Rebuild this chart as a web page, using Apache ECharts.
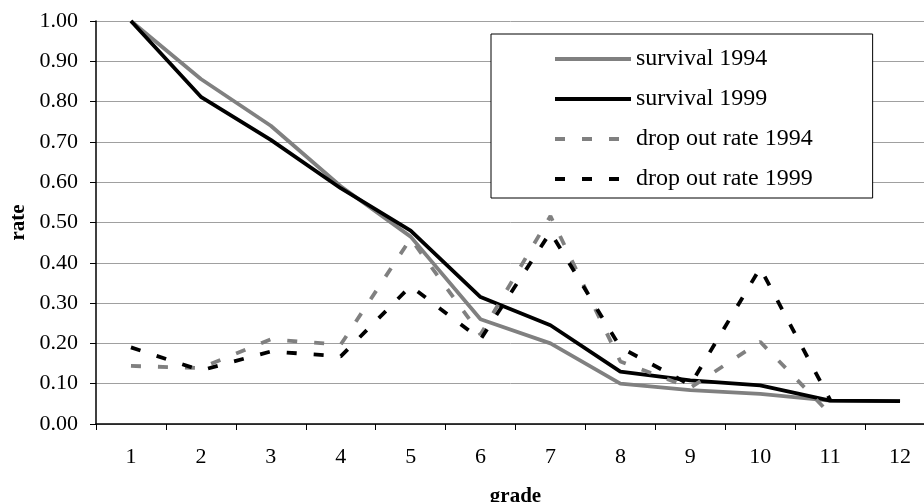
<!DOCTYPE html>
<html><head><meta charset="utf-8">
<script src="https://cdn.jsdelivr.net/npm/echarts@6/dist/echarts.min.js"></script>
<style>html,body{margin:0;padding:0;background:#fff}#c{width:924px;height:502px}</style>
</head><body><div id="c"></div>
<script>
const grades = ['1','2','3','4','5','6','7','8','9','10','11','12'];
const survival1994 = [1.00,0.856,0.74,0.59,0.465,0.26,0.20,0.10,0.084,0.075,0.058,0.057];
const survival1999 = [1.00,0.812,0.705,0.585,0.48,0.315,0.245,0.13,0.108,0.096,0.058,0.057];
const dropout1994 = [0.144,0.139,0.21,0.197,0.46,0.222,0.516,0.155,0.09,0.204,0.025,null];
const dropout1999 = [0.19,0.133,0.18,0.168,0.342,0.21,0.476,0.19,0.097,0.387,0.06,null];
const seriesNames = ['survival 1994','survival 1999','drop out rate 1994','drop out rate 1999'];

const font = 'Liberation Serif';
function mk(name, data, color, dashed){
  return {name, type:'line', data, symbol:'none', connectNulls:false, animation:false,
    lineStyle:{color, width: 3.8, type: dashed ? [10,17] : 'solid', cap:'butt'},
    itemStyle:{color}};
}
const chart = echarts.init(document.getElementById('c'), null, {renderer:'canvas'});
chart.setOption({
  backgroundColor:'#fff',
  animation:false,
  grid:{left:96, right:-11, top:21, bottom:78, containLabel:false, outerBoundsMode:'none'},
  legend:{
    orient:'vertical', left:491, top:34,
    padding:[13,60,7,62], itemGap:16, itemWidth:76, itemHeight:14,
    borderColor:'#000', borderWidth:1, backgroundColor:'#fff',
    itemStyle:{opacity:0},
    lineStyle:{width:4},
    textStyle:{fontFamily:font, fontSize:24, lineHeight:24, color:'#000', padding:[0,0,0,0]},
    data: seriesNames
  },
  xAxis:{type:'category', data:grades, boundaryGap:true,
    name:'grade', nameLocation:'middle', nameGap:62,
    nameTextStyle:{fontFamily:font, fontSize:21, fontWeight:'bold', color:'#000'},
    axisLine:{lineStyle:{color:'#000', width:1.5}},
    axisTick:{show:true, length:6, lineStyle:{color:'#000'}},
    axisLabel:{fontFamily:font, fontSize:22, color:'#000', margin:22},
    splitLine:{show:false}},
  yAxis:{type:'value', min:0, max:1, interval:0.1,
    name:'rate', nameLocation:'middle', nameGap:66, nameRotate:90,
    nameTextStyle:{fontFamily:font, fontSize:21, fontWeight:'bold', color:'#000'},
    axisLine:{show:true, lineStyle:{color:'#000', width:1.5}},
    axisTick:{show:true, length:6, lineStyle:{color:'#000'}},
    axisLabel:{fontFamily:font, fontSize:22, color:'#000', margin:18, formatter:v=>v.toFixed(2)},
    splitLine:{show:true, lineStyle:{color:'#a0a0a0', width:1}}},
  series:[
    mk(seriesNames[0], survival1994, '#808080', false),
    mk(seriesNames[1], survival1999, '#000000', false),
    mk(seriesNames[2], dropout1994, '#808080', true),
    mk(seriesNames[3], dropout1999, '#000000', true)
  ]
});
</script></body></html>
